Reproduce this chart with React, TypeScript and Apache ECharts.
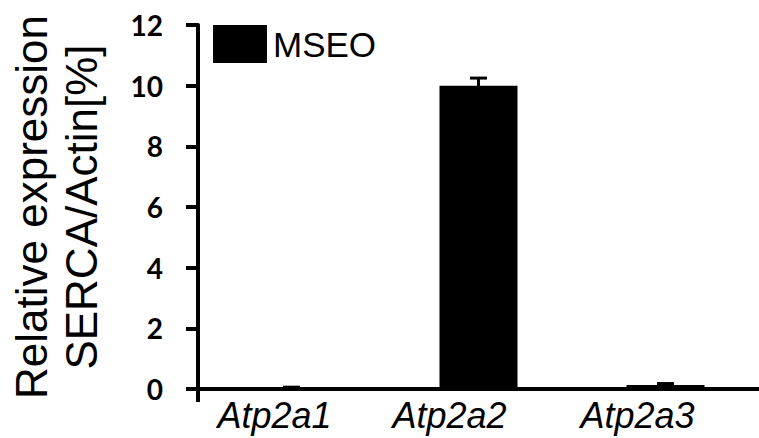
import React, { useEffect, useRef } from "react";
import * as echarts from "echarts";

const categories = ["Atp2a1", "Atp2a2", "Atp2a3"];
const values = [0.01, 10.0, 0.13];
const errors = [0.05, 0.25, 0.05];
const seriesName = "MSEO";

const GRID_LEFT = 198;
const GRID_TOP = 25;
const GRID_BOTTOM = 49;
const H = 438;
// labels in the original sit slightly left of their bars
const LABEL_SHIFT = [34, 58, 56];

export default function App() {
  const ref = useRef<HTMLDivElement>(null);
  useEffect(() => {
    if (!ref.current) return;
    const chart = echarts.init(ref.current, null, { renderer: "svg" });
    const axisY = H - GRID_BOTTOM;
    chart.setOption({
      animation: false,
      backgroundColor: "#ffffff",
      grid: {
        left: GRID_LEFT,
        right: 0,
        top: GRID_TOP,
        bottom: GRID_BOTTOM,
        containLabel: false,
        outerBoundsMode: "none",
      },
      legend: {
        data: [seriesName],
        left: 213,
        top: 25,
        padding: 0,
        icon: "rect",
        itemWidth: 54,
        itemHeight: 38,
        itemGap: 6,
        textStyle: { fontFamily: "Liberation Sans, Arial, sans-serif", fontSize: 35, color: "#000", padding: [0, 0, 0, 1] },
      },
      xAxis: {
        type: "category",
        data: categories.map((c, i) => ({ value: c, textStyle: { padding: [0, LABEL_SHIFT[i], 0, 0] } })),
        axisLine: { show: true, lineStyle: { color: "#000", width: 4 } },
        axisTick: { show: false },
        axisLabel: {
          margin: 8,
          color: "#000",
          fontFamily: "Liberation Sans, Arial, sans-serif",
          fontStyle: "italic",
          fontSize: 36,
        },
      },
      yAxis: {
        type: "value",
        min: 0,
        max: 12,
        interval: 2,
        name: "Relative expression\nSERCA/Actin[%]",
        nameLocation: "middle",
        nameRotate: 90,
        nameGap: 92,
        nameTextStyle: {
          fontFamily: "Liberation Sans, Arial, sans-serif",
          fontSize: 44,
          lineHeight: 50,
          color: "#000",
        },
        splitLine: { show: false },
        axisLine: { show: true, lineStyle: { color: "#000", width: 4 } },
        axisTick: { show: true, length: 12, lineStyle: { color: "#000", width: 4 } },
        axisLabel: {
          margin: 35,
          color: "#000",
          fontFamily: "Lato, sans-serif",
          fontWeight: "bold",
          fontSize: 28,
        },
      },
      graphic: [
        { type: "line", shape: { x1: GRID_LEFT, y1: axisY, x2: GRID_LEFT, y2: axisY + 13 }, style: { stroke: "#000", lineWidth: 4 }, z: 100 },
        { type: "line", shape: { x1: GRID_LEFT - 12, y1: axisY, x2: GRID_LEFT, y2: axisY }, style: { stroke: "#000", lineWidth: 4 }, z: 100 },
      ],
      series: [
        {
          name: seriesName,
          type: "bar",
          data: values,
          barWidth: 78,
          itemStyle: { color: "#000" },
          z: 2,
        },
        {
          type: "custom",
          name: "err",
          data: values.map((v, i) => [i, v - errors[i], v + errors[i]]),
          z: 3,
          renderItem: (params: any, api: any) => {
            const x = api.value(0);
            const lo = api.coord([x, api.value(1)]);
            const hi = api.coord([x, api.value(2)]);
            const half = 8.5;
            return {
              type: "group",
              children: [
                { type: "line", shape: { x1: lo[0], y1: lo[1], x2: hi[0], y2: hi[1] }, style: { stroke: "#000", lineWidth: 3 } },
                { type: "line", shape: { x1: hi[0] - half, y1: hi[1], x2: hi[0] + half, y2: hi[1] }, style: { stroke: "#000", lineWidth: 3 } },
              ],
            };
          },
        },
      ],
    });
    return () => chart.dispose();
  }, []);
  return <div ref={ref} style={{ position: "absolute", left: 0, top: 0, width: 759, height: 438 }} />;
}
